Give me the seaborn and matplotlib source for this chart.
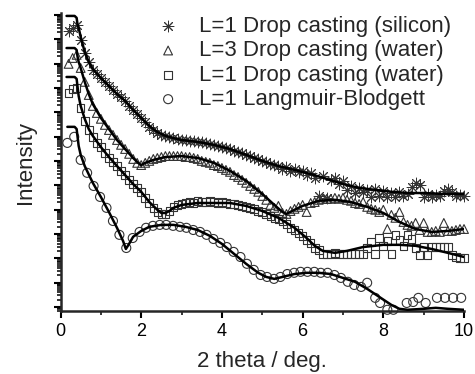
import numpy as np
import matplotlib
matplotlib.use("Agg")
import matplotlib.pyplot as plt
import seaborn as sns
from matplotlib.ticker import LogLocator, NullFormatter, MultipleLocator

# ---------------- data (log10 of intensity, arbitrary units) ----------------
x_dense = [0.2, 0.3, 0.4, 0.5, 0.6, 0.7, 0.8, 0.9, 1.0, 1.1, 1.2, 1.3, 1.4, 1.5,
           1.6, 1.7, 1.8, 1.9, 2.0, 2.1, 2.2, 2.3, 2.4, 2.5, 2.6, 2.7, 2.8, 2.9,
           3.0, 3.1, 3.2, 3.3, 3.4, 3.5, 3.6, 3.7, 3.8, 3.9, 4.0, 4.1, 4.2, 4.3,
           4.4, 4.5, 4.6, 4.7, 4.8, 4.9, 5.0, 5.1, 5.2, 5.3, 5.4, 5.5, 5.6, 5.7,
           5.8, 5.9, 6.0, 6.1, 6.2, 6.3, 6.4, 6.5, 6.6, 6.7, 6.8, 6.9, 7.0, 7.1,
           7.2, 7.3, 7.4, 7.5, 7.6, 7.7, 7.8, 7.9, 8.0, 8.1, 8.2, 8.3, 8.4, 8.5,
           8.6, 8.7, 8.8, 8.9, 9.0, 9.1, 9.2, 9.3, 9.4, 9.5, 9.6, 9.7, 9.8, 9.9, 10.0]

# L=1 Drop casting (silicon)
si_log = [-0.66, -0.53, -0.41, -1.03, -1.56, -1.93, -2.26, -2.42, -2.59, -2.75,
          -2.92, -3.08, -3.25, -3.37, -3.53, -3.74, -3.90, -4.07, -4.23, -4.40,
          -4.60, -4.73, -4.85, -4.93, -4.97, -5.01, -5.06, -5.10, -5.14, -5.14,
          -5.18, -5.18, -5.22, -5.22, -5.26, -5.30, -5.34, -5.38, -5.43, -5.47,
          -5.51, -5.59, -5.63, -5.67, -5.75, -5.80, -5.88, -5.92, -6.00, -6.04,
          -6.12, -6.17, -6.21, -6.33, -6.25, -6.41, -6.33, -6.45, -6.41, -6.58,
          -6.49, -6.70, -7.44, -6.62, -7.52, -6.78, -6.70, -6.95, -6.82, -7.19,
          -7.03, -7.32, -7.11, -7.27, -7.19, -7.48, -7.15, -7.44, -7.23, -7.48,
          -7.32, -7.48, -7.27, -7.44, -7.36, -7.07, -6.90, -6.99, -7.48, -7.36,
          -7.48, -7.40, -7.44, -7.23, -7.15, -7.27, -7.44, -7.40, -7.44]
si_fit_x = [0.15, 0.35, 0.40, 0.42, 0.45, 0.50, 0.60, 0.70, 0.80, 1.00, 1.20,
            1.40, 1.60, 1.80, 2.00, 2.20, 2.40, 2.60, 2.80, 3.00, 3.40, 3.80,
            4.20, 4.60, 5.00, 5.40, 5.80, 6.20, 6.60, 7.00, 7.40, 7.80, 8.20,
            8.60, 9.00, 9.50, 10.0]
si_fit = [-0.04, -0.04, -0.12, -0.37, -0.53, -0.90, -1.52, -1.93, -2.22, -2.59,
          -2.92, -3.25, -3.53, -3.90, -4.23, -4.56, -4.81, -4.97, -5.06, -5.14,
          -5.22, -5.34, -5.51, -5.75, -6.00, -6.21, -6.37, -6.54, -6.74, -6.95,
          -7.11, -7.19, -7.27, -7.32, -7.32, -7.36, -7.36]

# L=3 Drop casting (water)
w3_log = [-2.01, -1.77, -1.64, -2.18, -2.75, -3.29, -3.74, -4.03, -4.27, -4.52,
          -4.73, -4.93, -5.14, -5.34, -5.51, -5.71, -5.92, -6.08, -6.17, -6.08,
          -6.00, -5.92, -5.88, -5.84, -5.80, -5.80, -5.80, -5.80, -5.80, -5.84,
          -5.84, -5.88, -5.92, -6.00, -6.04, -6.08, -6.17, -6.21, -6.29, -6.37,
          -6.45, -6.58, -6.66, -6.78, -6.90, -7.03, -7.15, -7.27, -7.44, -7.60,
          -7.81, -7.93, -7.85, -8.14, -8.18, -8.06, -7.97, -7.89, -7.81, -8.10,
          -7.73, -7.69, -7.60, -7.56, -7.56, -7.56, -7.52, -7.56, -7.52, -7.60,
          -7.64, -7.73, -7.77, -7.69, -7.89, -7.97, -8.01, -8.10, -8.01, -8.80,
          -8.22, -8.34, -8.10, -8.51, -8.63, -8.67, -8.55, -8.84, -8.55, -8.92,
          -8.92, -8.88, -8.92, -8.55, -8.88, -8.88, -8.84, -8.80, -8.80]
w3_fit_x = [0.15, 0.35, 0.40, 0.42, 0.45, 0.50, 0.60, 0.70, 0.80, 1.00, 1.20,
            1.40, 1.60, 1.80, 1.95, 2.00, 2.10, 2.30, 2.60, 3.00, 3.40, 3.80,
            4.20, 4.60, 5.00, 5.30, 5.50, 5.60, 5.80, 6.00, 6.40, 6.80, 7.20,
            7.60, 8.00, 8.40, 8.80, 9.20, 9.60, 10.0]
w3_fit = [-1.36, -1.36, -1.44, -1.69, -1.93, -2.18, -2.75, -3.25, -3.66, -4.23,
          -4.69, -5.14, -5.51, -5.88, -6.12, -6.17, -6.08, -5.96, -5.84, -5.80,
          -5.88, -6.08, -6.41, -6.82, -7.36, -7.81, -8.10, -8.18, -8.01, -7.85,
          -7.64, -7.60, -7.69, -7.89, -8.14, -8.51, -8.80, -8.92, -8.88, -8.80]

# L=1 Drop casting (water)
w1_log = [-3.21, -3.04, -3.00, -3.82, -4.36, -4.73, -5.01, -5.26, -5.43, -5.67,
          -5.88, -6.04, -6.21, -6.41, -6.58, -6.78, -6.95, -7.11, -7.27, -7.52,
          -7.73, -7.93, -8.10, -8.18, -8.18, -8.06, -7.89, -7.81, -7.77, -7.73,
          -7.69, -7.73, -7.64, -7.69, -7.69, -7.64, -7.69, -7.73, -7.69, -7.73,
          -7.77, -7.77, -7.81, -7.85, -7.89, -7.93, -7.97, -8.06, -8.10, -8.18,
          -8.26, -8.34, -8.38, -8.47, -8.59, -8.75, -8.84, -8.96, -9.08, -9.25,
          -9.37, -9.58, -9.66, -9.82, -9.82, -9.82, -9.78, -9.82, -9.82, -9.82,
          -9.82, -9.82, -9.82, -9.82, -9.58, -9.33, -9.82, -9.17, -9.49, -9.29,
          -9.82, -9.04, -9.25, -9.49, -9.04, -9.21, -9.58, -9.86, -9.54, -9.86,
          -9.54, -9.54, -9.54, -9.54, -9.54, -9.86, -9.95, -9.99, -9.99]
w1_fit_x = [0.15, 0.35, 0.40, 0.42, 0.45, 0.50, 0.60, 0.70, 0.80, 1.00, 1.20,
            1.40, 1.60, 1.80, 2.00, 2.20, 2.40, 2.50, 2.60, 2.70, 2.80, 3.00,
            3.40, 3.80, 4.20, 4.60, 5.00, 5.40, 5.80, 6.10, 6.30, 6.50, 6.80,
            7.10, 7.50, 8.00, 8.40, 8.80, 9.20, 9.60, 10.0]
w1_fit = [-2.55, -2.55, -2.63, -2.92, -3.33, -3.74, -4.27, -4.69, -4.97, -5.43,
          -5.84, -6.21, -6.58, -6.95, -7.27, -7.69, -8.01, -8.14, -8.14, -8.06,
          -7.93, -7.81, -7.73, -7.73, -7.73, -7.85, -8.06, -8.34, -8.75, -9.17,
          -9.49, -9.70, -9.78, -9.70, -9.54, -9.45, -9.45, -9.49, -9.62, -9.78,
          -9.95]

# L=1 Langmuir-Blodgett
lb_x = [0.17, 0.34, 0.50, 0.66, 0.82, 0.98, 1.14, 1.30, 1.46, 1.63, 1.79, 1.96,
        2.12, 2.29, 2.46, 2.62, 2.79, 2.96, 3.12, 3.29, 3.46, 3.62, 3.79, 3.96,
        4.12, 4.29, 4.46, 4.62, 4.79, 4.96, 5.12, 5.29, 5.45, 5.62, 5.79, 5.95,
        6.12, 6.29, 6.45, 6.62, 6.79, 6.95, 7.12, 7.28, 7.45, 7.60, 7.80, 7.92,
        8.10, 8.25, 8.58, 8.74, 8.87, 9.05, 9.33, 9.53, 9.73, 9.93]
lb_log = [-5.26, -5.01, -5.96, -6.49, -7.03, -7.48, -7.93, -8.47, -9.04, -9.58,
          -9.17, -8.92, -8.75, -8.67, -8.63, -8.63, -8.67, -8.71, -8.75, -8.84,
          -8.92, -9.04, -9.21, -9.37, -9.54, -9.74, -9.95, -10.23, -10.48, -10.69,
          -10.77, -10.85, -10.77, -10.65, -10.60, -10.56, -10.56, -10.56, -10.60,
          -10.60, -10.69, -10.81, -10.97, -11.10, -11.18, -11.01, -11.63, -11.84,
          -12.12, -12.12, -11.84, -11.80, -11.63, -11.84, -11.63, -11.63, -11.63,
          -11.63]
lb_fit_x = [0.17, 0.35, 0.40, 0.42, 0.45, 0.50, 0.60, 0.80, 1.00, 1.20, 1.40,
            1.55, 1.62, 1.70, 1.80, 2.00, 2.20, 2.50, 2.80, 3.10, 3.40, 3.70,
            4.00, 4.30, 4.60, 4.90, 5.10, 5.30, 5.50, 5.80, 6.10, 6.40, 6.70,
            7.00, 7.30, 7.60, 7.90, 8.20, 8.40, 8.60, 9.00, 9.30, 9.60, 10.0]
lb_fit = [-4.60, -4.60, -4.69, -4.97, -5.38, -5.75, -6.21, -6.90, -7.48, -8.10,
          -8.75, -9.29, -9.62, -9.41, -9.12, -8.88, -8.71, -8.63, -8.63, -8.71,
          -8.84, -9.08, -9.41, -9.82, -10.23, -10.60, -10.77, -10.85, -10.77,
          -10.65, -10.60, -10.60, -10.65, -10.81, -10.97, -11.26, -11.59, -11.92,
          -12.08, -12.12, -12.08, -12.04, -12.08, -12.12]

labels = ["L=1 Drop casting (silicon)", "L=3 Drop casting (water)",
          "L=1 Drop casting (water)", "L=1 Langmuir-Blodgett"]

# ---------------- plotting ----------------
sns.set_style("ticks")
plt.rcParams["font.family"] = ["Liberation Sans", "DejaVu Sans"]

W, H = 475, 374
fig = plt.figure(figsize=(W / 100, H / 100), dpi=100)
ax = fig.add_axes([60.5 / W, 63 / H, 403.5 / W, 298 / H])

edge = "#333333"
series = [
    (x_dense, si_log, si_fit_x, si_fit, dict(marker=(8, 2, 0), s=60, color=edge, linewidth=0.7)),
    (x_dense, w3_log, w3_fit_x, w3_fit, dict(marker="^", s=40, facecolor="none", edgecolor=edge, linewidth=0.8)),
    (x_dense, w1_log, w1_fit_x, w1_fit, dict(marker="s", s=30, facecolor="none", edgecolor=edge, linewidth=0.8)),
    (lb_x, lb_log, lb_fit_x, lb_fit, dict(marker="o", s=42, facecolor="none", edgecolor=edge, linewidth=0.8)),
]

handles = []
for (xd, yd, xf, yf, kw), lab in zip(series, labels):
    before = len(ax.collections)
    sns.scatterplot(x=xd, y=[10.0 ** v for v in yd], ax=ax, zorder=2, clip_on=False, **kw)
    handles.append(ax.collections[before])
    sns.lineplot(x=xf, y=[10.0 ** v for v in yf], ax=ax, color="black", linewidth=1.8,
                 sort=False, estimator=None, zorder=3)

ax.set_yscale("log")
ax.set_ylim(10 ** -12.17, 10 ** 0.08)
ax.set_xlim(0, 10)
ax.yaxis.set_major_locator(LogLocator(base=10, numticks=40))
ax.yaxis.set_minor_locator(LogLocator(base=10, subs=np.arange(2, 10), numticks=40))
ax.yaxis.set_major_formatter(NullFormatter())
ax.yaxis.set_minor_formatter(NullFormatter())
ax.xaxis.set_major_locator(MultipleLocator(2))
ax.xaxis.set_minor_locator(MultipleLocator(1))

sns.despine(ax=ax)
for sp in ["left", "bottom"]:
    ax.spines[sp].set_linewidth(1.8)
ax.tick_params(axis="both", which="major", direction="out", length=5, width=1.5,
               labelsize=13, color="black", labelcolor="black")
ax.tick_params(axis="both", which="minor", direction="out", length=3, width=1.1,
               color="black")
ax.tick_params(axis="y", which="both", labelleft=False)

ax.set_xlabel("2 theta / deg.", fontsize=16, labelpad=8)
ax.set_ylabel("Intensity", fontsize=16, labelpad=13)

ax.legend(handles, labels, loc="upper left", bbox_to_anchor=(157 / W, 1 - 16 / H),
          bbox_transform=fig.transFigure, frameon=False, fontsize=16,
          handlelength=1.0, handletextpad=0.9, labelspacing=0.15,
          borderpad=0, borderaxespad=0)

fig.savefig("out.png", dpi=100)
